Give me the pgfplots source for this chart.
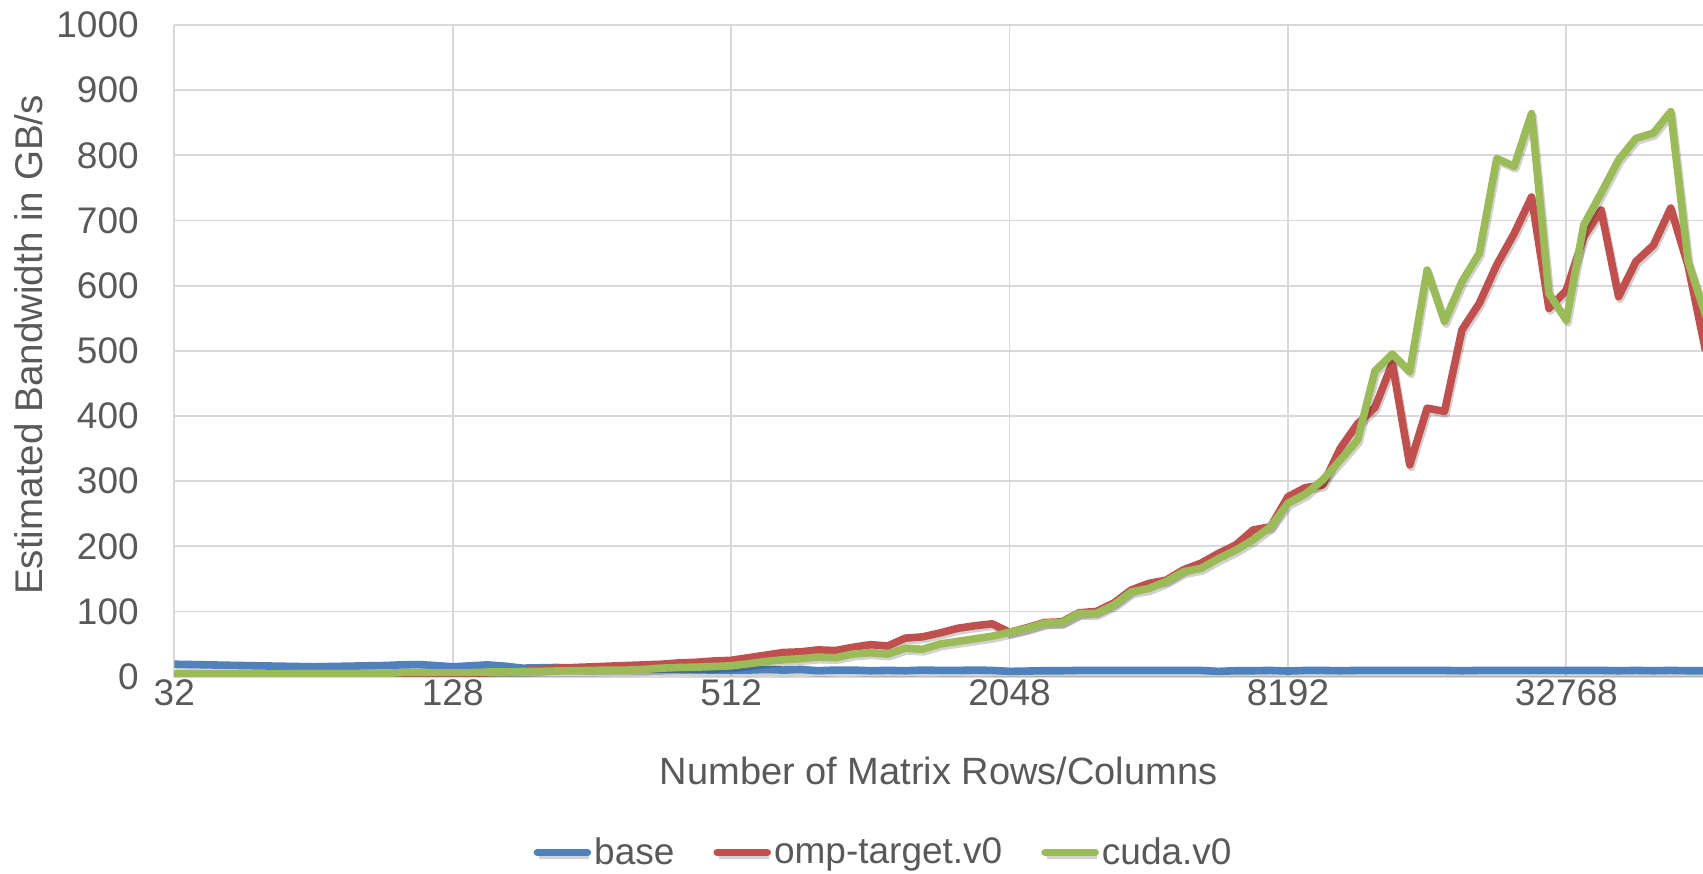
\documentclass[border=0pt]{standalone}
\usepackage{fontspec}
\setmainfont{Liberation Sans}
\usepackage{pgfplots}
\usepackage{pgfplotstable}
\pgfplotsset{compat=1.18}

\definecolor{baseblue}{HTML}{4F81BD}
\definecolor{ompred}{HTML}{C0504D}
\definecolor{cudagreen}{HTML}{9BBB59}
\definecolor{textgray}{HTML}{595959}
\definecolor{gridgray}{HTML}{D9D9D9}

% n = matrix rows/columns, bandwidth in GB/s
\pgfplotstableread{
n      base  omp  cuda
32     19    1    4
35     18.5  1    4
38     18    1    4
41     17.5  1    4
45     17    1    4
49     16.5  1    4
54     16    1    4
59     15.5  1    5
64     15    2    5
70     15.5  2    5
76     16    2    5
83     16.5  2    5
91     17    2    5
99     18    3    6
108    18.5  3    6
117    17    3    6
128    15    4    6
140    16.5  5    6
152    18    6    7
166    16    7    7
181    13    9    8
197    13.5  11   8
215    14    13   8.6
235    13    14   9
256    12    15   9.5
279    12    16   10
304    12    17   10
332    11.5  18   11
362    11    19   13
395    11    21   14
431    10.5  22   14.5
470    10    24   15.5
512    10    25   16.6
558    10    29   19.7
609    11    33   23.3
664    10    37   25.9
724    11    38   27.4
790    9     41   30
861    10    40   29
939    10    45   34.6
1024   9     49   36.6
1117   9.5   47   34.6
1218   9     59   43.5
1328   10    61   42
1448   9.5   67   50
1579   9.5   74   54
1722   10    78   58
1878   9.5   81   62
2048   8     68   68
2233   8.5   75   74
2435   9     83   82
2656   9     84   83
2896   9.5   98   97
3158   9.5   100  97
3444   9.5   113  110
3756   9.5   133  130
4096   9.5   143  135
4467   9.5   148  146
4871   9.5   164  161
5312   9.5   174  166
5793   8     189  181
6317   9     202  194
6889   9     225  210
7512   9.5   230  230
8192   8.5   276  266
8933   9.5   290  280
9742   9.5   294  302
10624  9     350  332
11585  9.5   388  363
12634  9.5   413  469
13777  9.5   481  495
15024  9.5   325  468
16384  9.5   412  624
17867  9.5   407  545
19484  9     532  606
21247  9.5   573  650
23170  9.5   632  795
25268  9.5   680  783
27554  9.5   736  864
30048  9.5   565  588
32768  9.5   593  547
35734  9.5   675  693
38968  9.5   716  742
42495  9     583  793
46341  9.5   637  826
50535  9     662  834
55109  9.5   719  867
60097  9     630  637
65536  9     500  555
}\bwdata

\tikzset{
  shadowed/.style={preaction={draw=black, draw opacity=0.18,
      transform canvas={xshift=0.8pt, yshift=-1.3pt}}},
}

\begin{document}
\begin{tikzpicture}[font=\fontsize{18.5}{22}\selectfont]
\path[use as bounding box] (-87.15pt,-98.2pt) rectangle (764.35pt,338.3pt);
\begin{axis}[
  at={(0pt,0pt)}, anchor=south west,
  scale only axis, width=764.35pt, height=325.8pt,
  xmode=log, log basis x=2,
  xmin=32, xmax=64719, ymin=0, ymax=1000,
  xtick={32,128,512,2048,8192,32768},
  xticklabels={32,128,512,2048,8192,32768},
  ytick={0,100,...,1000},
  /pgf/number format/assume math mode=true,
  /pgf/number format/1000 sep={},
  axis line style={draw=none},
  major tick length=0pt,
  grid=major,
  major grid style={draw=gridgray, line width=0.9pt},
  every tick label/.append style={text=textgray},
  xticklabel style={anchor=north, inner sep=0pt, yshift=-1.5pt},
  yticklabel style={anchor=east, inner sep=0pt, xshift=-17.6pt},
  xlabel={Number of Matrix Rows/Columns},
  ylabel={Estimated Bandwidth in GB/s},
  xlabel style={text=textgray, font=\fontsize{19}{22}\selectfont,
    anchor=center, at={(axis description cs:0.5,-0.145)}},
  ylabel style={text=textgray, font=\fontsize{19.3}{22}\selectfont,
    anchor=center, at={(axis description cs:-0.095,0.509)}},
  legend columns=3,
  legend style={at={(axis description cs:0.4643,-0.270)}, anchor=center,
    draw=none, fill=none, text=textgray, inner sep=0pt,
    nodes={inner xsep=1.5pt},
    /tikz/every even column/.append style={column sep=18pt}},
  legend image code/.code={\draw[#1, line cap=round] (1pt,0pt) -- (26pt,0pt);},
  every axis plot/.append style={line width=3.8pt, line join=round, no markers, shadowed},
]
\addplot[baseblue] table[x=n, y=base] {\bwdata};
\addlegendentry{base}
\addplot[ompred] table[x=n, y=omp] {\bwdata};
\addlegendentry{omp-target.v0}
\addplot[cudagreen] table[x=n, y=cuda] {\bwdata};
\addlegendentry{cuda.v0}
\end{axis}
\end{tikzpicture}
\end{document}
